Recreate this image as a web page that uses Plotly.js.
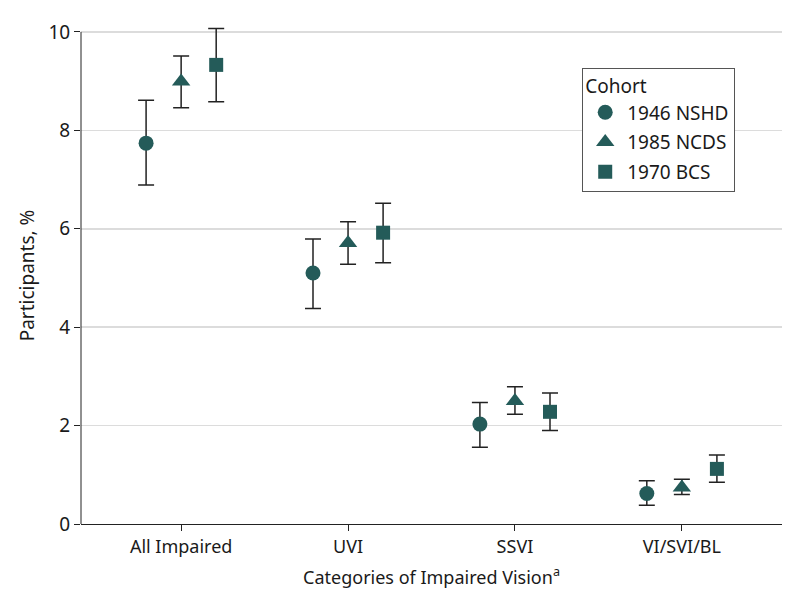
<!DOCTYPE html>
<html>
<head>
<meta charset="utf-8">
<script src="https://cdn.plot.ly/plotly-3.0.1.min.js"></script>
<style>html,body{margin:0;padding:0;background:#fff;}#chart{width:798px;height:609px;}</style>
</head>
<body>
<div id="chart"></div>
<script>
const categories = ["All Impaired", "UVI", "SSVI", "VI/SVI/BL"];

const nshdValue = [7.74, 5.10, 2.03, 0.62];
const nshdLower = [6.89, 4.38, 1.56, 0.38];
const nshdUpper = [8.61, 5.79, 2.47, 0.88];

const ncdsValue = [8.99, 5.71, 2.50, 0.74];
const ncdsLower = [8.46, 5.28, 2.23, 0.60];
const ncdsUpper = [9.51, 6.14, 2.79, 0.91];

const bcsValue = [9.33, 5.92, 2.28, 1.12];
const bcsLower = [8.58, 5.31, 1.90, 0.85];
const bcsUpper = [10.07, 6.52, 2.66, 1.40];

const seriesNames = ["1946 NSHD", "1985 NCDS", "1970 BCS"];
const yTicks = [0, 2, 4, 6, 8, 10];

const color = "#245b59";
const font = "Noto Sans, DejaVu Sans, sans-serif";

function mk(name, vals, lo, hi, symbol, size, grp) {
  return {
    type: "scatter",
    mode: "markers",
    name: name,
    legendgroup: grp,
    x: categories,
    y: vals,
    cliponaxis: false,
    marker: {symbol: symbol, size: size, color: color},
    error_y: {
      type: "data",
      symmetric: false,
      array: hi.map((h, i) => h - vals[i]),
      arrayminus: vals.map((v, i) => v - lo[i]),
      color: "#222",
      thickness: 1.5,
      width: 8
    }
  };
}

const data = [
  mk(seriesNames[0], nshdValue, nshdLower, nshdUpper, "circle", 15, "a"),
  mk(seriesNames[1], ncdsValue, ncdsLower, ncdsUpper, "triangle-up", 16, "b"),
  mk(seriesNames[2], bcsValue, bcsLower, bcsUpper, "square", 14, "c")
];

const yMaxTick = yTicks[yTicks.length - 1];

const layout = {
  width: 798,
  height: 609,
  margin: {l: 81, r: 16, t: 27, b: 85},
  paper_bgcolor: "#fff",
  plot_bgcolor: "#fff",
  font: {family: font, size: 17, color: "#1a1a1a"},
  scattermode: "group",
  scattergap: 0.37,
  showlegend: true,
  xaxis: {
    type: "category",
    range: [-0.6, 3.6],
    showline: true,
    linecolor: "#222",
    linewidth: 1,
    ticks: "outside",
    ticklen: 6,
    tickcolor: "#222",
    showgrid: false,
    zeroline: false,
    tickfont: {family: font, size: 18, color: "#1a1a1a"},
    title: {text: "Categories of Impaired Vision<sup>a</sup>", font: {family: font, size: 18, color: "#1a1a1a"}, standoff: 14}
  },
  yaxis: {
    range: [0, 10.1],
    tickvals: yTicks,
    showline: false,
    ticks: "outside",
    ticklen: 6,
    tickcolor: "#222",
    showgrid: true,
    gridcolor: "#dcdcdc",
    gridwidth: 1.5,
    zeroline: false,
    tickfont: {family: font, size: 19, color: "#1a1a1a"},
    title: {text: "Participants, %", font: {family: font, size: 19, color: "#1a1a1a"}, standoff: 8}
  },
  shapes: [{
    type: "line", xref: "paper", yref: "y",
    x0: 0, x1: 0, y0: 0, y1: yMaxTick,
    line: {color: "#222", width: 1}
  }],
  legend: {
    x: 0.715,
    y: 0.918,
    xanchor: "left",
    yanchor: "top",
    bordercolor: "#555",
    borderwidth: 1,
    bgcolor: "#fff",
    font: {family: font, size: 19, color: "#1a1a1a"},
    title: {text: "Cohort", font: {family: font, size: 19, color: "#1a1a1a"}},
    traceorder: "grouped",
    tracegroupgap: 2,
    itemwidth: 34
  }
};

Plotly.newPlot("chart", data, layout, {displayModeBar: false, staticPlot: true});
</script>
</body>
</html>
